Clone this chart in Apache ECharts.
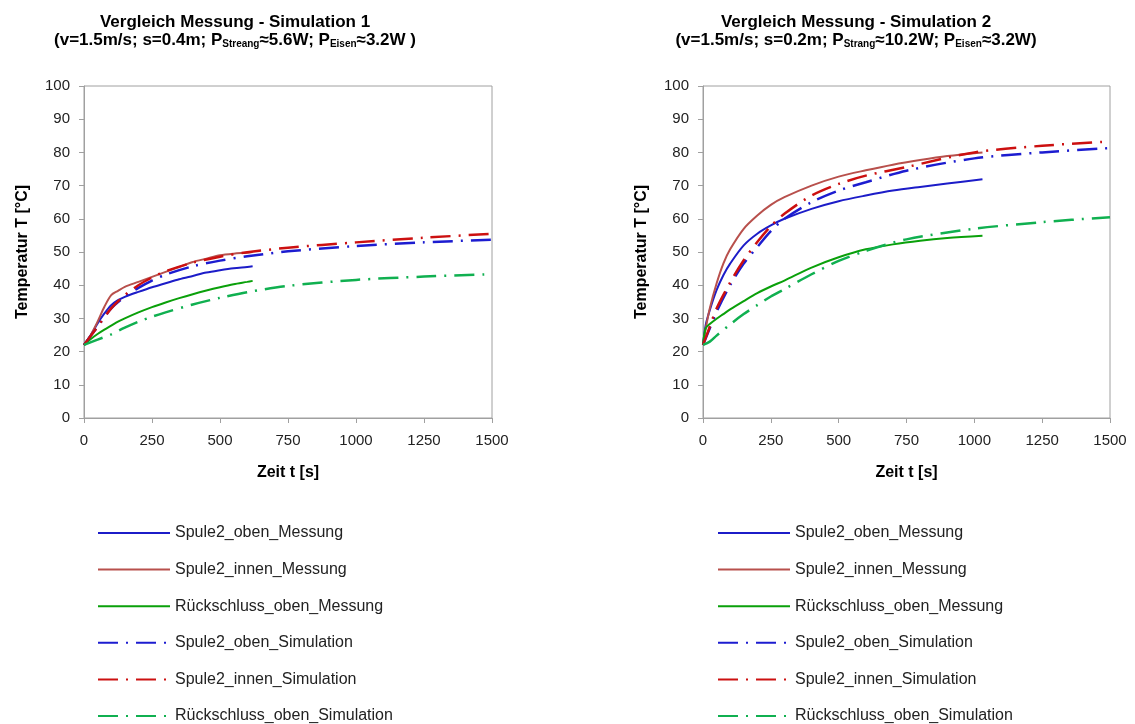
<!DOCTYPE html>
<html>
<head>
<meta charset="utf-8" />
<title>Vergleich Messung - Simulation</title>
<script src="https://cdn.jsdelivr.net/npm/echarts@6/dist/echarts.min.js"></script>
</head>
<body style="margin:0;background:#fff;">
<div id="chart" style="width:1135px;height:724px;"></div>
<script>
// Zeitachsen (s)
var tMess1 = [0, 25, 50, 75, 100, 125, 150, 200, 250, 300, 350, 400, 450, 500, 550, 600, 620];
var tSim1 = [0, 50, 100, 150, 200, 250, 300, 400, 500, 600, 750, 1000, 1250, 1500];
var tMess2 = [0, 10, 25, 50, 75, 100, 150, 200, 250, 300, 400, 500, 600, 700, 800, 900, 1030];
var tSim2 = [0, 25, 50, 100, 150, 200, 250, 300, 400, 500, 600, 750, 1000, 1250, 1500];

// Simulation 1 (Temperatur in °C)
var obenMess1 = [22, 25, 28.5, 31.5, 34, 35.5, 36.5, 38, 39.4, 40.6, 41.8, 42.8, 43.8, 44.5, 45.1, 45.5, 45.7];
var innenMess1 = [22, 25, 29, 33.5, 37, 38.3, 39.5, 41, 42.5, 44, 45.5, 47, 48, 49, 49.5, 49.8, 50];
var rueckMess1 = [22, 23.8, 25.3, 26.6, 27.8, 29, 30, 31.8, 33.4, 34.8, 36.1, 37.3, 38.4, 39.4, 40.3, 41, 41.3];
var obenSim1 = [22, 27.5, 33, 36.5, 39.2, 41.4, 43.2, 45.7, 47.4, 48.7, 50.2, 51.8, 52.9, 53.7];
var innenSim1 = [22, 27.5, 33, 37, 40, 42.3, 44.2, 46.8, 48.6, 49.9, 51.3, 52.9, 54.3, 55.5];
var rueckSim1 = [22, 23.6, 25.2, 27.2, 29, 30.5, 31.8, 34.2, 36.2, 37.9, 39.8, 41.6, 42.6, 43.3];

// Simulation 2
var obenMess2 = [22, 28, 32.5, 38.5, 43, 46.5, 52, 55.5, 58, 60, 63, 65.3, 67, 68.5, 69.6, 70.6, 71.9];
var innenMess2 = [22, 27, 33, 40.5, 46.5, 50.8, 57, 61, 64.2, 66.5, 70, 72.7, 74.6, 76.3, 77.7, 78.9, 80];
var rueckMess2 = [22, 27, 28.3, 29.9, 31.3, 32.7, 35.2, 37.6, 39.6, 41.4, 45.3, 48.4, 50.8, 52.3, 53.4, 54.2, 54.9];
var obenSim2 = [22, 27, 32, 40, 46.5, 51.5, 56.3, 60, 65, 68.5, 71, 74.5, 78.2, 80, 81.3];
var innenSim2 = [22, 27.5, 33, 40.8, 47.5, 53, 57.8, 61.5, 67, 70.5, 73, 75.6, 80, 82, 83.3];
var rueckSim2 = [22, 23, 24.8, 28.2, 31.3, 34, 36.6, 38.8, 43.3, 47.3, 50.3, 53.8, 57, 59, 60.5];

var names = ['Spule2_oben_Messung', 'Spule2_innen_Messung', 'Rückschluss_oben_Messung',
             'Spule2_oben_Simulation', 'Spule2_innen_Simulation', 'Rückschluss_oben_Simulation'];

var colors = ['#1c1cc8', '#b8504c', '#0aa00a', '#1c1cd0', '#cc1010', '#10b050'];
var dashDot = [20, 8, 2, 8];
var font = 'Liberation Sans, Arial, sans-serif';

function pairs(t, v) {
  return t.map(function (x, i) { return [x, v[i]]; });
}

function line(k, idx, t, v) {
  var sim = k >= 3;
  return {
    name: names[k],
    type: 'line',
    xAxisIndex: idx,
    yAxisIndex: idx,
    data: pairs(t, v),
    smooth: 0.3,
    symbol: 'none',
    z: sim ? 3 : 2,
    color: colors[k],
    lineStyle: { color: colors[k], width: sim ? 2.5 : 2, type: sim ? dashDot : 'solid' }
  };
}

function xAxis(idx) {
  return {
    type: 'value', gridIndex: idx, min: 0, max: 1500, interval: 250,
    name: 'Zeit t [s]', nameLocation: 'middle', nameGap: 47,
    nameTextStyle: { fontWeight: 'bold', fontSize: 16, color: '#000', fontFamily: font },
    axisLine: { lineStyle: { color: '#a0a0a0' } },
    axisTick: { show: true, length: 5, lineStyle: { color: '#a0a0a0' } },
    axisLabel: { fontSize: 15, color: '#222', margin: 15, fontFamily: font,
                 formatter: function (v) { return String(v); } },
    splitLine: { show: false }
  };
}

function yAxis(idx) {
  return {
    type: 'value', gridIndex: idx, min: 0, max: 100, interval: 10,
    name: 'Temperatur T [°C]', nameLocation: 'middle', nameGap: 53,
    nameTextStyle: { fontWeight: 'bold', fontSize: 16, color: '#000', fontFamily: font },
    axisLine: { show: true, lineStyle: { color: '#a0a0a0' } },
    axisTick: { show: true, length: 5, lineStyle: { color: '#a0a0a0' } },
    axisLabel: { fontSize: 15, color: '#222', margin: 14, fontFamily: font },
    splitLine: { show: false }
  };
}

function legend(left) {
  return {
    orient: 'vertical', left: left, top: 525, padding: 0,
    itemWidth: 72, itemHeight: 14, itemGap: 20.6,
    data: names,
    itemStyle: { opacity: 0 },
    textStyle: { fontSize: 16, color: '#222', fontFamily: font, lineHeight: 16 }
  };
}

var titleStyle = {
  fontSize: 17, fontWeight: 'bold', color: '#000', fontFamily: font, lineHeight: 18,
  rich: { sub: { fontSize: 10, color: '#000', fontFamily: font, verticalAlign: 'bottom', lineHeight: 6 } }
};

var chart = echarts.init(document.getElementById('chart'), null, { renderer: 'canvas' });

var option = {
  animation: false,
  backgroundColor: '#fff',
  title: [
    {
      text: 'Vergleich Messung - Simulation 1\n(v=1.5m/s; s=0.4m; P{sub|Streang}≈5.6W; P{sub|Eisen}≈3.2W )',
      left: 235, top: 13, padding: 0, textAlign: 'center', textStyle: titleStyle
    },
    {
      text: 'Vergleich Messung - Simulation 2\n(v=1.5m/s; s=0.2m; P{sub|Strang}≈10.2W; P{sub|Eisen}≈3.2W)',
      left: 856, top: 13, padding: 0, textAlign: 'center', textStyle: titleStyle
    }
  ],
  grid: [
    { left: 84, right: 643, top: 86, bottom: 306, show: true, borderColor: '#a0a0a0', borderWidth: 1 },
    { left: 703, right: 25, top: 86, bottom: 306, show: true, borderColor: '#a0a0a0', borderWidth: 1 }
  ],
  xAxis: [xAxis(0), xAxis(1)],
  yAxis: [yAxis(0), yAxis(1)],
  legend: [legend(97), legend(717)],
  series: [
    line(0, 0, tMess1, obenMess1),
    line(1, 0, tMess1, innenMess1),
    line(2, 0, tMess1, rueckMess1),
    line(3, 0, tSim1, obenSim1),
    line(4, 0, tSim1, innenSim1),
    line(5, 0, tSim1, rueckSim1),
    line(0, 1, tMess2, obenMess2),
    line(1, 1, tMess2, innenMess2),
    line(2, 1, tMess2, rueckMess2),
    line(3, 1, tSim2, obenSim2),
    line(4, 1, tSim2, innenSim2),
    line(5, 1, tSim2, rueckSim2)
  ]
};

chart.setOption(option);
window.addEventListener('resize', chart.resize);
</script>
</body>
</html>
